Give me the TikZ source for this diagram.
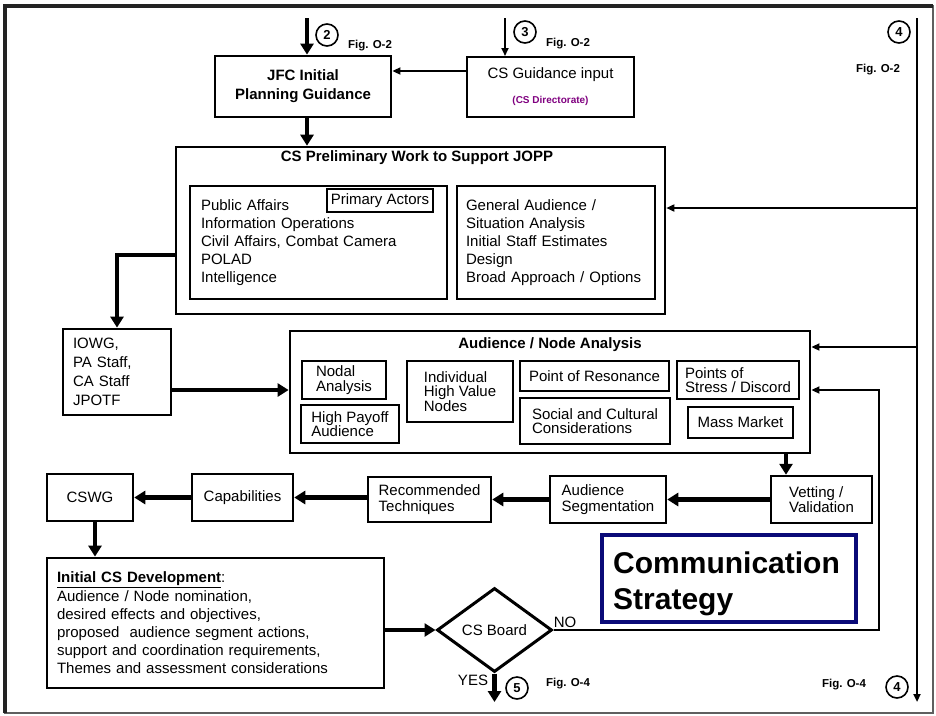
\documentclass[tikz,border=0pt]{standalone}
\usepackage{fontspec}
\setmainfont{Liberation Sans}
\usetikzlibrary{arrows.meta,shapes.geometric}

\definecolor{dirpurple}{RGB}{128,0,128}
\definecolor{csnavy}{RGB}{10,10,120}
\definecolor{framedark}{RGB}{35,35,35}
\definecolor{framegray}{RGB}{95,95,95}

\tikzset{
  body/.style={font=\fontsize{15}{18}\selectfont},
  heavybox/.style={draw, line width=2.8pt, inner sep=0pt, body},
  lightbox/.style={draw, line width=2pt, inner sep=0pt, body},
  thinbox/.style={draw, line width=1.4pt, inner sep=0pt, body},
  tightlines/.style={font=\fontsize{15}{14.5}\selectfont, align=left},
  heavyarrow/.style={line width=4.5pt, -{Triangle[length=11pt,width=13pt]}},
  lightarrow/.style={line width=1.7pt, -{Triangle[length=8pt,width=7pt]}},
  railline/.style={line width=2.4pt, -{Triangle[length=8pt,width=7pt]}},
  badge/.style={circle, draw, line width=1.6pt, minimum size=22pt, inner sep=0pt,
    font=\fontsize{13}{13}\bfseries\selectfont},
  figref/.style={font=\fontsize{11.5}{12}\bfseries\selectfont, inner sep=0pt},
  boxtitle/.style={font=\fontsize{15}{18}\bfseries\selectfont, inner sep=0pt},
  plain/.style={body, inner sep=0pt},
}

\begin{document}
\begin{tikzpicture}[x=1pt, y=-1pt]
  % page area and outer frame
  \fill[white] (0,0) rectangle (936,715);
  \useasboundingbox (0,0) rectangle (936,715);
  \draw[line width=1.5pt, framegray] (5,6) rectangle (933,713);
  \draw[line width=4.5pt, framedark] (5,713) -- (5,6) -- (933,6);

  % top entries
  \coordinate (src2) at (307,18);
  \coordinate (src3) at (505,18);
  \coordinate (railtop) at (917,18);
  \coordinate (railend) at (917,702);
  \coordinate (noturn) at (879,390);
  \coordinate (yesend) at (494.5,702);

  \node[heavybox, minimum width=176pt, minimum height=61pt, align=center,
        font=\fontsize{15}{19}\bfseries\selectfont] (jfc) at (303,86.5)
        {JFC Initial\\Planning Guidance};

  \node[lightbox, minimum width=167pt, minimum height=60pt] (csg) at (550.5,87) {};
  \node[plain] (csgtext) at (550.5,75) {CS Guidance input};
  \node[font=\fontsize{10}{12}\bfseries\selectfont, text=dirpurple, inner sep=0pt]
        (csgsub) at (550.5,100.5) {(CS Directorate)};

  \node[badge] (b2) at (327,35) {2};
  \node[badge] (b3) at (525,32) {3};
  \node[badge] (b4top) at (899,32) {4};
  \node[figref] (f2) at (370,45.5) {Fig. O-2};
  \node[figref] (f3) at (568,44) {Fig. O-2};
  \node[figref] (f4top) at (878,69.5) {Fig. O-2};

  % preliminary work
  \node[heavybox, line width=2.6pt, minimum width=489pt, minimum height=167pt]
        (prelim) at (420.5,230.5) {};
  \node[boxtitle] (prelimtitle) at (417,158) {CS Preliminary Work to Support JOPP};
  \node[lightbox, minimum width=257pt, minimum height=113pt, text width=235pt,
        inner xsep=11pt, align=left] (actors) at (318.5,242.5)
        {Public Affairs\\Information Operations\\Civil Affairs, Combat Camera\\POLAD\\Intelligence};
  \node[thinbox, minimum width=106pt, minimum height=23pt] (primary) at (380,200.5)
        {Primary Actors};
  \node[lightbox, minimum width=198pt, minimum height=113pt, text width=180pt,
        inner xsep=9pt, align=left] (tasks) at (556,242.5)
        {General Audience /\\Situation Analysis\\Initial Staff Estimates\\Design\\Broad Approach / Options};

  % staff groups
  \node[heavybox, minimum width=108pt, minimum height=86pt, text width=88pt,
        inner xsep=10pt, align=left, font=\fontsize{15}{19}\selectfont]
        (iowg) at (117,372) {IOWG,\\PA Staff,\\CA Staff\\JPOTF};

  % audience / node analysis
  \node[heavybox, minimum width=520pt, minimum height=122pt] (aud) at (550,392) {};
  \node[boxtitle] (audtitle) at (550,345) {Audience / Node Analysis};
  \node[lightbox, tightlines, minimum width=84pt, minimum height=38pt] (nodal)
        at (344,380) {Nodal\\Analysis};
  \node[lightbox, tightlines, minimum width=98pt, minimum height=38pt] (payoff)
        at (350,424) {High Payoff\\Audience};
  \node[lightbox, align=left, font=\fontsize{15}{13.5}\selectfont,
        minimum width=106pt, minimum height=61pt] (hvn) at (460,391.5)
        {Individual\\High Value\\Nodes};
  \node[lightbox, minimum width=149pt, minimum height=30pt] (resonance)
        at (594.5,376) {Point of Resonance};
  \node[lightbox, tightlines, minimum width=150pt, minimum height=46pt] (social)
        at (595,421) {Social and Cultural\\Considerations};
  \node[lightbox, tightlines, minimum width=122pt, minimum height=38pt] (stress)
        at (738,380) {Points of\\Stress / Discord};
  \node[lightbox, minimum width=105pt, minimum height=31pt] (mass)
        at (740.5,422.5) {Mass Market};

  % processing chain
  \node[heavybox, line width=2.5pt, minimum width=86pt, minimum height=47pt] (cswg)
        at (90,497.5) {CSWG};
  \node[heavybox, line width=2.5pt, minimum width=101pt, minimum height=47pt] (capab)
        at (242.5,497.5) {Capabilities};
  \node[heavybox, line width=2.5pt, align=left, font=\fontsize{15}{15.5}\selectfont,
        minimum width=123pt, minimum height=45pt] (recom) at (429.5,499.5)
        {Recommended\\Techniques};
  \node[heavybox, line width=2.5pt, align=left, font=\fontsize{15}{15.5}\selectfont,
        minimum width=116pt, minimum height=47pt] (audseg) at (608,499.5)
        {Audience\\Segmentation};
  \node[heavybox, line width=2.5pt, align=left, font=\fontsize{15}{15.5}\selectfont,
        minimum width=101pt, minimum height=47pt] (vet) at (821.5,499.5)
        {Vetting /\\Validation};

  % strategy banner
  \node[draw=csnavy, line width=4pt, minimum width=254pt, minimum height=87pt,
        inner sep=0pt] (comm) at (729,578.5) {};
  \node[anchor=west, inner sep=0pt, align=left,
        font=\fontsize{30}{36}\bfseries\selectfont] (commtext) at (613,584)
        {Communication\\Strategy};

  % development and board
  \node[heavybox, minimum width=337pt, minimum height=130pt, text width=317pt,
        inner xsep=10pt, align=left, font=\fontsize{15}{18.2}\selectfont]
        (init) at (215.5,623)
        {\textbf{\underline{Initial CS Development}}:\\Audience / Node nomination,\\desired effects and objectives,\\proposed\ \ audience segment actions,\\support and coordination requirements,\\Themes and assessment considerations};
  \node[diamond, draw, line width=3pt, minimum width=115pt, minimum height=84pt,
        inner sep=0pt, body] (board) at (494.5,630) {CS Board};

  \node[plain] (nolabel) at (565,622) {NO};
  \node[plain] (yeslabel) at (473,680) {YES};
  \node[badge] (b5) at (517,688) {5};
  \node[badge] (b4bot) at (897,687) {4};
  \node[figref] (f5) at (568,684) {Fig. O-4};
  \node[figref] (f4bot) at (844,685) {Fig. O-4};

  % connectors
  \draw[heavyarrow] (src2) -- (src2 |- jfc.north);
  \draw[lightarrow] (src3) -- (src3 |- csg.north);
  \draw[lightarrow] (csg.west |- 0,71) -- (jfc.east |- 0,71);
  \draw[heavyarrow] ([xshift=4pt]jfc.south) -- ([xshift=4pt]jfc.south |- prelim.north);
  \draw[railline] (railtop) -- (railend);
  \draw[lightarrow] (railtop |- 0,208) -- (prelim.east |- 0,208);
  \draw[lightarrow] (railtop |- 0,347) -- (aud.east |- 0,347);
  \draw[heavyarrow] (prelim.west |- 0,255) -| (iowg.north);
  \draw[heavyarrow] (iowg.east |- 0,390) -- (aud.west |- 0,390);
  \draw[heavyarrow] (aud.south -| 786,0) -- (vet.north -| 786,0);
  \draw[heavyarrow] (vet.west) -- (audseg.east |- vet.west);
  \draw[heavyarrow] (audseg.west) -- (recom.east |- audseg.west);
  \draw[heavyarrow] (recom.west |- capab.east) -- (capab.east);
  \draw[heavyarrow] (capab.west) -- (cswg.east);
  \draw[heavyarrow] ([xshift=5pt]cswg.south) -- ([xshift=5pt]cswg.south |- init.north);
  \draw[heavyarrow] (init.east |- board.west) -- (board.west);
  \draw[lightarrow] (board.east) -| (noturn) -- (aud.east |- noturn);
  \draw[heavyarrow] (board.south) -- (yesend);
\end{tikzpicture}
\end{document}
